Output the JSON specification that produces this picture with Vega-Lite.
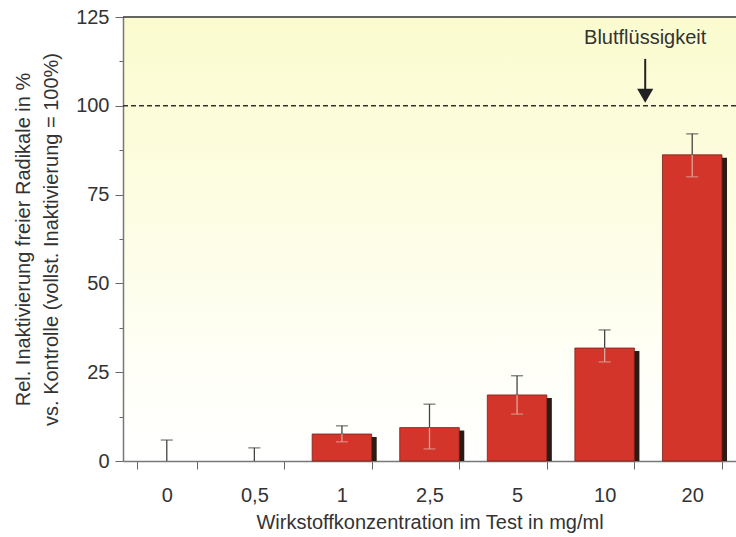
{
  "$schema": "https://vega.github.io/schema/vega-lite/v6.json",
  "width": 613,
  "height": 444,
  "autosize": {"type": "none"},
  "padding": {"left": 123, "top": 17, "right": 0, "bottom": 76},
  "background": "white",
  "view": {
    "stroke": null,
    "fill": {
      "gradient": "linear",
      "x1": 0, "y1": 0, "x2": 0, "y2": 1,
      "stops": [
        {"offset": 0, "color": "#fbfbcf"},
        {"offset": 0.45, "color": "#fdfde4"},
        {"offset": 0.8, "color": "#fffff8"},
        {"offset": 1, "color": "#ffffff"}
      ]
    }
  },
  "config": {
    "font": "Liberation Sans",
    "axis": {
      "labelFont": "Liberation Sans",
      "titleFont": "Liberation Sans",
      "labelFontSize": 20,
      "titleFontSize": 20,
      "labelColor": "#333333",
      "titleColor": "#333333",
      "titleFontWeight": "normal",
      "domainColor": "#777777",
      "tickColor": "#666666",
      "grid": false
    }
  },
  "datasets": {
    "bars": [
      {"conc": "0", "value": 0, "lo": 0, "hi": 5.9},
      {"conc": "0,5", "value": 0, "lo": 0, "hi": 3.7},
      {"conc": "1", "value": 7.6, "lo": 5.4, "hi": 9.9},
      {"conc": "2,5", "value": 9.4, "lo": 3.4, "hi": 16.0},
      {"conc": "5", "value": 18.6, "lo": 13.2, "hi": 24.0},
      {"conc": "10", "value": 31.8, "lo": 27.9, "hi": 36.9},
      {"conc": "20", "value": 86.2, "lo": 80.0, "hi": 92.1}
    ],
    "note": [
      {"conc": "20", "label": "Blutflüssigkeit", "ty": 119.2, "s1": 113.2, "s2": 104.5, "head": 102.8}
    ]
  },
  "data": {"name": "bars"},
  "layer": [
    {
      "transform": [{"filter": "datum.value > 0"}],
      "mark": {"type": "bar", "color": "#2e1a14", "xOffset": 5, "yOffset": 3, "y2Offset": 0},
      "encoding": {
        "x": {
          "field": "conc",
          "type": "nominal",
          "sort": null,
          "scale": {"domain": ["0", "0,5", "1", "2,5", "5", "10", "20"], "paddingInner": 0.32, "paddingOuter": 0.16},
          "axis": {
            "title": "Wirkstoffkonzentration im Test in mg/ml",
            "labelAngle": 0,
            "tickBand": "extent",
            "tickSize": 8,
            "labelPadding": 16,
            "titlePadding": 7,
            "domainWidth": 1.5
          }
        },
        "y": {
          "field": "value",
          "type": "quantitative",
          "stack": null,
          "scale": {"domain": [0, 125], "nice": false},
          "axis": {
            "title": ["Rel. Inaktivierung freier Radikale in %", "vs. Kontrolle (vollst. Inaktivierung = 100%)"],
            "values": [0, 12.5, 25, 37.5, 50, 62.5, 75, 87.5, 100, 112.5, 125],
            "labelExpr": "datum.value % 25 === 0 ? datum.label : ''",
            "tickSize": {"condition": {"test": "datum.value % 25 === 0", "value": 8}, "value": 4},
            "labelPadding": 6,
            "titlePadding": 14,
            "titleLineHeight": 28,
            "domainWidth": 1.5
          }
        },
        "y2": {"datum": 0}
      }
    },
    {
      "transform": [{"filter": "datum.value > 0"}],
      "mark": {"type": "bar", "color": "#d4352a", "stroke": "#7a2018", "strokeWidth": 0.8},
      "encoding": {
        "x": {"field": "conc", "type": "nominal", "sort": null},
        "y": {"field": "value", "type": "quantitative"}
      }
    },
    {
      "transform": [{"filter": "datum.value > 0"}],
      "mark": {"type": "rule", "color": "#dba59a", "strokeWidth": 1.3},
      "encoding": {
        "x": {"field": "conc", "type": "nominal", "sort": null},
        "y": {"field": "lo", "type": "quantitative"}, "y2": {"field": "value"}
      }
    },
    {
      "transform": [{"filter": "datum.value > 0"}],
      "mark": {"type": "tick", "color": "#dba59a", "thickness": 1.3, "size": 12},
      "encoding": {
        "x": {"field": "conc", "type": "nominal", "sort": null},
        "y": {"field": "lo", "type": "quantitative"}
      }
    },
    {
      "mark": {"type": "rule", "color": "#444444", "strokeWidth": 1.3},
      "encoding": {
        "x": {"field": "conc", "type": "nominal", "sort": null},
        "y": {"field": "value", "type": "quantitative"}, "y2": {"field": "hi"}
      }
    },
    {
      "mark": {"type": "tick", "color": "#444444", "thickness": 1.3, "size": 12},
      "encoding": {
        "x": {"field": "conc", "type": "nominal", "sort": null},
        "y": {"field": "hi", "type": "quantitative"}
      }
    },
    {
      "data": {"values": [{"ref": 100}]},
      "mark": {"type": "rule", "color": "#333333", "strokeWidth": 1.5, "strokeDash": [5, 3]},
      "encoding": {"y": {"field": "ref", "type": "quantitative"}}
    },
    {
      "data": {"values": [{"ref": 125}]},
      "mark": {"type": "rule", "color": "#333333", "strokeWidth": 1.5},
      "encoding": {"y": {"field": "ref", "type": "quantitative"}}
    },
    {
      "data": {"name": "note"},
      "mark": {"type": "text", "fontSize": 20, "color": "#333333", "font": "Liberation Sans", "xOffset": -47, "baseline": "middle"},
      "encoding": {
        "x": {"field": "conc", "type": "nominal", "sort": null},
        "y": {"field": "ty", "type": "quantitative"}, "text": {"field": "label"}
      }
    },
    {
      "data": {"name": "note"},
      "mark": {"type": "rule", "color": "#222222", "strokeWidth": 2, "xOffset": -47},
      "encoding": {
        "x": {"field": "conc", "type": "nominal", "sort": null},
        "y": {"field": "s1", "type": "quantitative"}, "y2": {"field": "s2"}
      }
    },
    {
      "data": {"name": "note"},
      "mark": {"type": "point", "shape": "triangle-down", "filled": true, "color": "#222222", "opacity": 1, "size": 260, "xOffset": -47},
      "encoding": {
        "x": {"field": "conc", "type": "nominal", "sort": null},
        "y": {"field": "head", "type": "quantitative"}
      }
    }
  ]
}
